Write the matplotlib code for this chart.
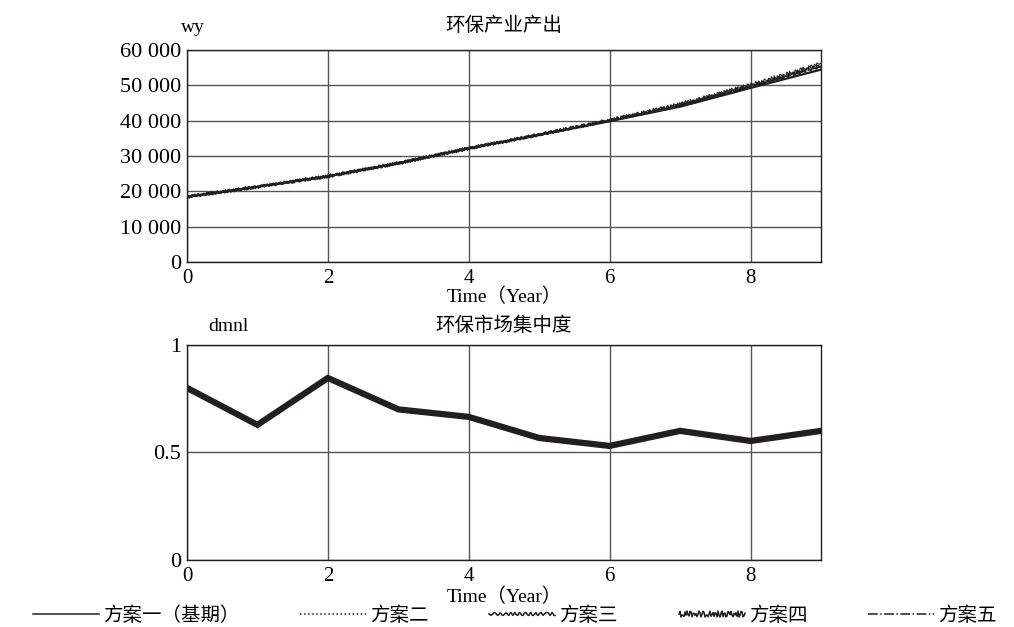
import numpy as np
import matplotlib.pyplot as plt
from matplotlib.lines import Line2D

plt.rcParams['font.family'] = ['Liberation Serif', 'Noto Sans CJK SC']

# data
years = np.arange(0, 10)
output_s1 = [18500, 21300, 24300, 28000, 32200, 36000, 39900, 44000, 49300, 54500]
output_s2 = [18500, 21300, 24300, 28000, 32200, 36000, 40000, 44200, 49600, 55200]
output_s3 = [18500, 21300, 24300, 28000, 32200, 36100, 40100, 44500, 49900, 55700]
output_s4 = [18500, 21300, 24300, 28000, 32200, 36100, 40200, 44700, 50200, 56200]
output_s5 = [18500, 21300, 24300, 28000, 32200, 36000, 40000, 44300, 49700, 55400]
concentration = [0.80, 0.628, 0.846, 0.70, 0.665, 0.567, 0.53, 0.60, 0.553, 0.60]
scheme_names = ['方案一（基期）', '方案二', '方案三', '方案四', '方案五']

ink = '#231f20'
grid_c = '#555555'

fig = plt.figure(figsize=(10.14, 6.27), dpi=100)
ax1 = fig.add_axes([0.1844, 0.582, 0.6253, 0.338])
ax2 = fig.add_axes([0.1844, 0.107, 0.6253, 0.343])

styles = [
    dict(ls='-', lw=1.6),
    dict(ls=':', lw=1.6),
    dict(ls='-', lw=1.1, sketch=(1.2, 6, 2)),
    dict(ls='-', lw=0.8, sketch=(1.8, 3, 0.5)),
    dict(ls='-.', lw=1.4),
]
legend_sketch = [None, None, (1.5, 6, 2), (3, 3, 0.5), None]
series = [output_s1, output_s2, output_s3, output_s4, output_s5]
handles = []
for vals, st, lsk in zip(series, styles, legend_sketch):
    ln, = ax1.plot(years, vals, color=ink, ls=st['ls'], lw=st['lw'])
    h = Line2D([], [], color=ink, ls=st['ls'], lw=1.1)
    if 'sketch' in st:
        ln.set_sketch_params(*st['sketch'])
        h.set_sketch_params(*lsk)
    handles.append(h)

ax1.set_xlim(0, 9)
ax1.set_ylim(0, 60000)
ax1.set_yticks(np.arange(0, 60001, 10000))
ax1.set_yticklabels(['0', '10 000', '20 000', '30 000', '40 000', '50 000', '60 000'])
ax1.set_title('环保产业产出', fontsize=14, pad=14, family=['Noto Sans CJK SC'])
ax1.text(0.01, 1.065, 'wy', transform=ax1.transAxes, fontsize=14, ha='center', va='bottom')

ax2.plot(years, concentration, color=ink, lw=4.5, solid_joinstyle='miter')
ax2.set_xlim(0, 9)
ax2.set_ylim(0, 1)
ax2.set_yticks([0, 0.5, 1])
ax2.set_yticklabels(['0', '0.5', '1'])
ax2.set_title('环保市场集中度', fontsize=14, pad=10, family=['Noto Sans CJK SC'])
ax2.text(0.065, 1.045, 'dmnl', transform=ax2.transAxes, fontsize=14, ha='center', va='bottom')

for ax in (ax1, ax2):
    ax.set_xticks([0, 2, 4, 6, 8])
    ax.grid(True, color=grid_c, lw=1.0)
    ax.tick_params(axis='y', length=0, labelsize=16, pad=4)
    ax.tick_params(axis='x', length=0, labelsize=15, pad=5)
    ax.set_xlabel('Time（Year）', fontsize=14, labelpad=1,
                  family=['Liberation Serif', 'Noto Sans CJK SC'])
    for sp in ax.spines.values():
        sp.set_color(ink)
        sp.set_linewidth(1.0)
ax1.xaxis.labelpad = 0

fig.legend(handles, scheme_names, loc='lower left',
           bbox_to_anchor=(0.015, -0.024, 0.985, 0.05), mode='expand',
           ncol=5, frameon=False, fontsize=14, handlelength=3.4, handletextpad=0.2)

fig.savefig('out.png', dpi=100)
